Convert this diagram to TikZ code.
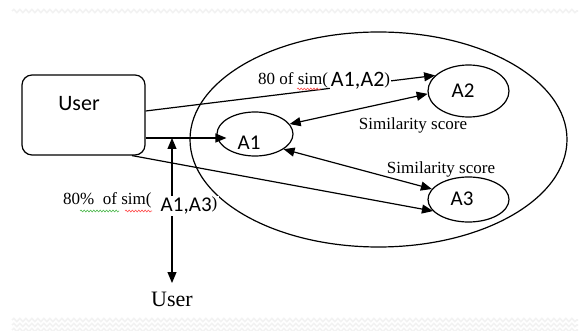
\documentclass[tikz,border=0pt]{standalone}
\usepackage{fontspec}
\setmainfont{Liberation Serif}
\newfontfamily\carl{Carlito}
\usetikzlibrary{shapes.geometric,arrows.meta,decorations.pathmorphing}
\tikzset{
  ln/.style={line width=1.2pt, draw=black},
  arr/.style={ln, -{Triangle[length=11pt,width=9pt]}},
  darr/.style={ln, {Triangle[length=11pt,width=9pt]}-{Triangle[length=11pt,width=9pt]}},
  ell/.style={ellipse, ln, inner sep=0pt},
  sanslab/.style={font=\carl\fontsize{21}{24}\selectfont, inner sep=0pt},
  seriflab/.style={font=\fontsize{17}{20}\selectfont, inner sep=0pt},
  squig/.style={decorate, decoration={snake, amplitude=0.9pt, segment length=3.2pt}, line width=0.6pt},
  band/.style={decorate, decoration={snake, amplitude=1.6pt, segment length=6pt}, line width=1.6pt, draw=black!5}
}
\begin{document}
\begin{tikzpicture}[x=1pt,y=-1pt]
\useasboundingbox (0,0) rectangle (581,331);
% faint page bands
\draw[band] (12,11) -- (578,11);
\draw[band] (12,320) -- (578,320);
\draw[band] (12,325) -- (578,325);
\draw[band] (12,330) -- (578,330);
% container ellipse
\node[ell, minimum width=377pt, minimum height=215pt] (outer) at (378.5,139.5) {};
% user box
\node[draw, line width=1.2pt, rounded corners=10pt, minimum width=123pt, minimum height=80pt] (user) at (83.5,115) {};
\node[sanslab, font=\carl\fontsize{22}{26}\selectfont] (usertxt) at (79,104) {User};
% agents
\node[ell, minimum width=76pt, minimum height=44pt] (A1) at (255,134) {};
\node[sanslab] (A1t) at (249,143) {A1};
\node[ell, minimum width=81pt, minimum height=52pt] (A2) at (468.5,91) {};
\node[sanslab] (A2t) at (463,91) {A2};
\node[ell, minimum width=81pt, minimum height=45pt] (A3) at (468.5,199.5) {};
\node[sanslab] (A3t) at (462,199) {A3};
% connectors
\draw[arr] ([yshift=4pt]user.east) -- (A2.155);
\draw[arr, shorten >=-10pt] ([yshift=-23pt]user.east) -- ([yshift=-4pt]A1.west);
\draw[arr] ([xshift=48.5pt]user.south) -- (A3.198);
\draw[darr] (A1.16) -- (A2.184);
\draw[darr] (A1.332) -- (A3.164);
\coordinate (j) at (172,138);
\node[inner sep=0pt, anchor=north, font=\fontsize{22}{26}\selectfont] (user2) at (172,292) {User};
\draw[darr, shorten >=9pt] (j) -- (user2.north);
% labels
\node[seriflab, anchor=base west] (l1a) at (258,85) {80 of sim(};
\node[sanslab, anchor=base west, fill=white, inner sep=1pt, font=\carl\fontsize{22}{24}\selectfont] (l1b) at ([xshift=1.5pt,yshift=-2pt]l1a.base east) {A1,A2{\rmfamily\fontsize{17}{20}\selectfont\raisebox{2pt}{)}}};
\draw[squig, draw=red!70] (297,89) -- (321,89);
\node[seriflab] (s1) at (413,125) {Similarity score};
\node[seriflab] (s2) at (441,169) {Similarity score};
\node[seriflab, anchor=base west] (l2a) at (63,205) {80\%\ \ of sim(};
\node[sanslab, anchor=base west, fill=white, inner sep=1.5pt] (l2b) at (159,212) {A1,A3{\rmfamily\fontsize{17}{20}\selectfont\raisebox{3pt}{)}}};
\draw[squig, draw=green!60!black!70] (80,211) -- (119,211);
\draw[squig, draw=red!70] (125,211) -- (152,211);
\end{tikzpicture}
\end{document}
